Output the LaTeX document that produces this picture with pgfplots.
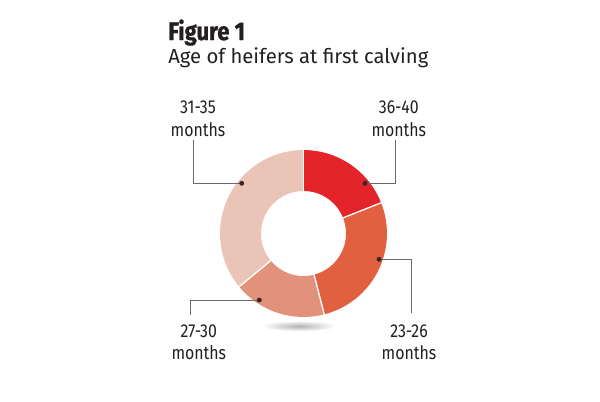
\documentclass[border=0pt]{standalone}
\usepackage{pgfplots}
\pgfplotsset{compat=1.18}
\usepackage{fontspec}
\setmainfont{Fira Sans}
\newfontfamily\labfont[FakeStretch=0.85]{Fira Sans}
\newfontfamily\titlefont[FakeStretch=0.87,FakeBold=1.2]{Fira Sans Bold}
\definecolor{c1}{HTML}{E3242B}
\definecolor{c2}{HTML}{E0603F}
\definecolor{c3}{HTML}{E2917A}
\definecolor{c4}{HTML}{EAC5B7}
\definecolor{lc}{HTML}{6A6A6A}
\definecolor{dotc}{HTML}{3A2626}
\definecolor{txt}{HTML}{231F20}
\begin{document}
\begin{tikzpicture}
\begin{axis}[x=0.75pt,y=0.75pt,xmin=0,xmax=600,ymin=0,ymax=401,hide axis,clip=false,
  leader/.style={lc,line width=0.6pt,mark=*,mark size=1.5pt,mark indices={1},mark options={fill=dotc,draw=dotc}}]
\pgfplotsextra{
  \path (axis cs:0,0) rectangle (axis cs:600,401);
  \shade[inner color=black!30,outer color=white] (axis cs:299,75) ellipse [x radius=28pt, y radius=4pt];
  \begin{scope}[shift={(axis cs:303.5,167.5)}]
    \gdef\acc{90}
    \foreach \v/\c in {19/c1,27/c2,18/c3,36/c4}{
      \pgfmathsetmacro\a{\acc}
      \pgfmathsetmacro\b{\acc-3.6*\v}
      \fill[\c] (\a:62.6pt) arc[start angle=\a,end angle=\b,radius=62.6pt] -- (\b:31.9pt) arc[start angle=\b,end angle=\a,radius=31.9pt] -- cycle;
      \xdef\acc{\b}
    }
    \gdef\acc{90}
    \foreach \v in {19,27,18,36}{
      \pgfmathsetmacro\b{\acc-3.6*\v}
      \draw[white,line width=1pt] (\b:31pt) -- (\b:64pt);
      \xdef\acc{\b}
    }
  \end{scope}
}
\addplot[leader] coordinates {(241.7,217.7) (193.3,217.7) (193.3,261)};
\addplot[leader] coordinates {(365,217.7) (395,217.7) (395,261)};
\addplot[leader] coordinates {(259.3,101) (190.7,101) (190.7,86)};
\addplot[leader] coordinates {(379,141.7) (411.7,141.7) (411.7,88)};
\tikzset{lab/.style={anchor=base,inner sep=0,text=txt,font=\labfont\fontsize{14}{16}\selectfont}}
\node[lab] at (axis cs:198,288) {31-35};
\node[lab] at (axis cs:198,265) {months};
\node[lab] at (axis cs:398.8,288) {36-40};
\node[lab] at (axis cs:398.8,265) {months};
\node[lab] at (axis cs:198.8,64) {27-30};
\node[lab] at (axis cs:198.8,42) {months};
\node[lab] at (axis cs:409,64) {23-26};
\node[lab] at (axis cs:409,42) {months};
\node[anchor=base west,inner sep=0,text=txt] at (axis cs:168,361) {\titlefont\fontsize{19}{21}\selectfont Figure 1};
\node[anchor=base west,inner sep=0,text=txt] at (axis cs:168,338) {\fontsize{15.2}{17}\selectfont Age of heifers at first calving};
\end{axis}
\end{tikzpicture}
\end{document}
